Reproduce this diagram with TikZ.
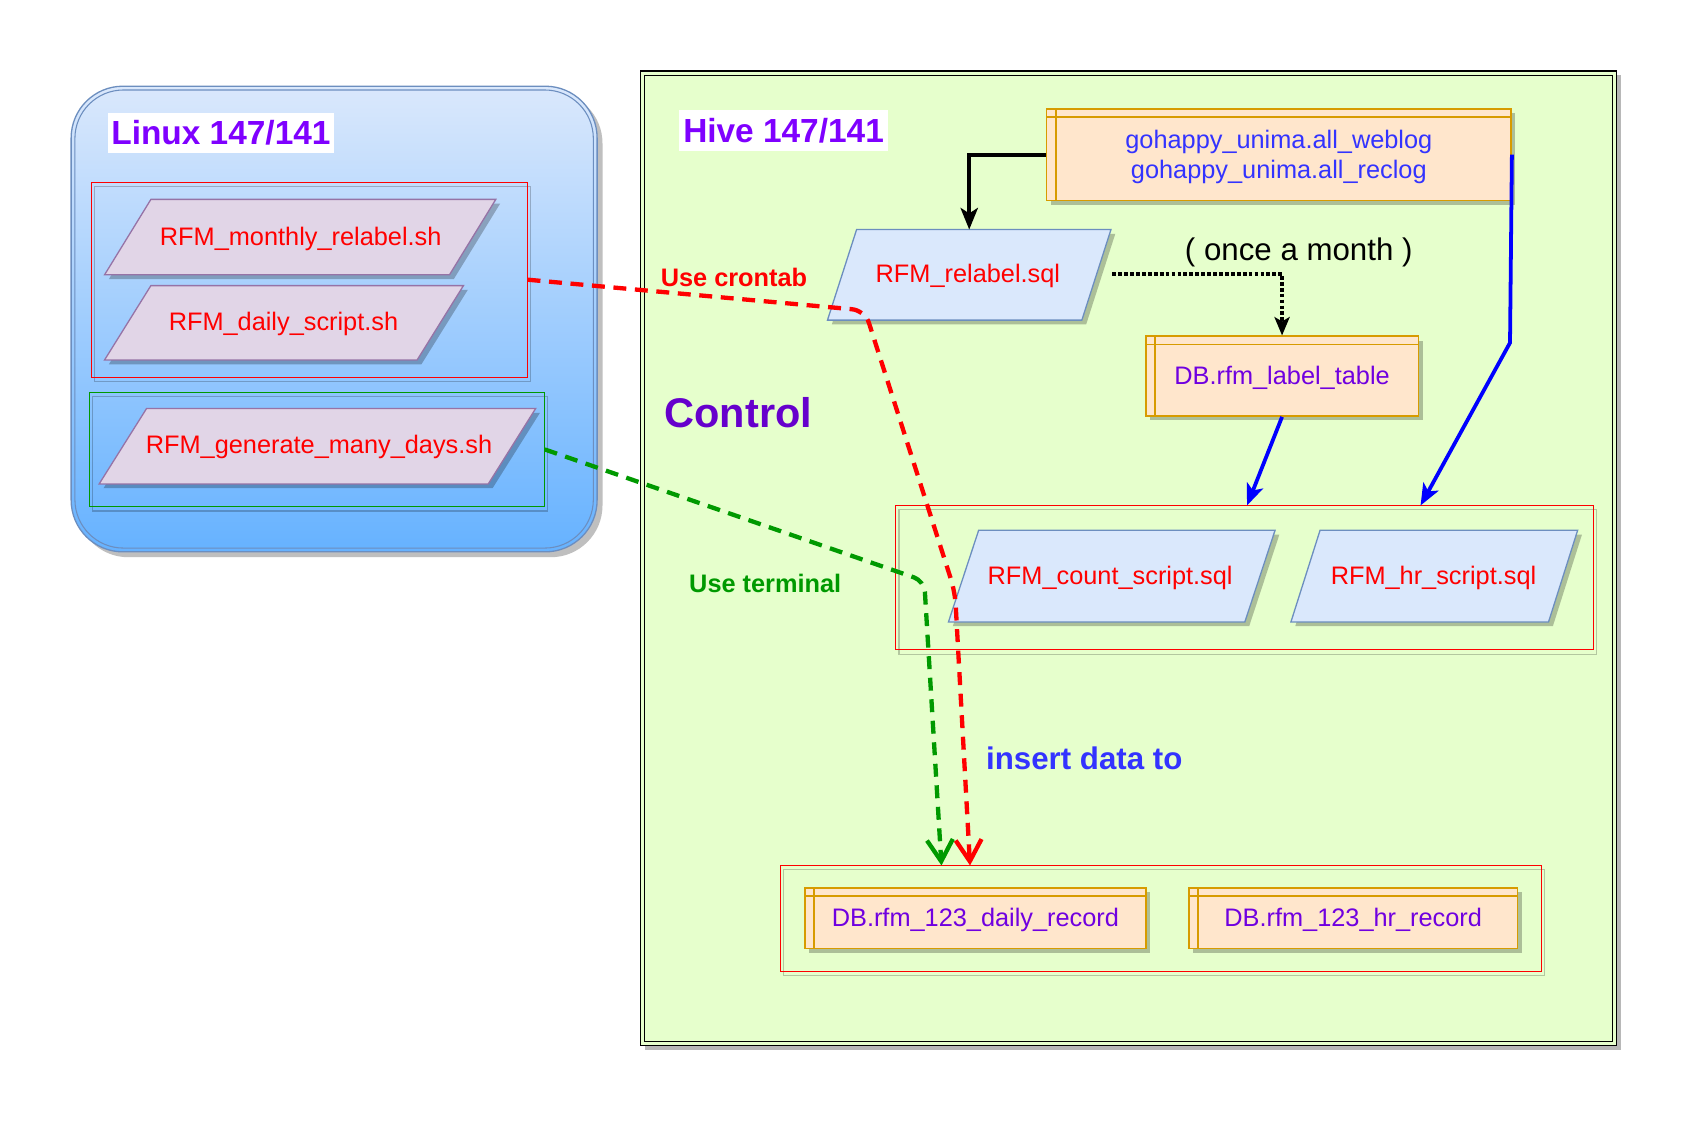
\documentclass[tikz,border=0pt]{standalone}
\usepackage{fontspec}
\setmainfont{Liberation Sans}
\usetikzlibrary{arrows.meta,calc,shadows}

\definecolor{linuxtop}{HTML}{DAE8FC}
\definecolor{linuxbot}{HTML}{66B2FF}
\definecolor{linuxline}{HTML}{6C8EBF}
\definecolor{lilacfill}{HTML}{E1D5E7}
\definecolor{lilacline}{HTML}{9673A6}
\definecolor{sqlfill}{HTML}{DAE8FC}
\definecolor{sqlline}{HTML}{6C8EBF}
\definecolor{tabfill}{HTML}{FFE6CC}
\definecolor{tabline}{HTML}{D79B00}
\definecolor{hivefill}{HTML}{E6FFCC}
\definecolor{redtxt}{HTML}{FF0000}
\definecolor{violet}{HTML}{7F00FF}
\definecolor{dbtxt}{HTML}{7000E0}
\definecolor{ctrl}{HTML}{6600CC}
\definecolor{srctxt}{HTML}{3333FF}
\definecolor{grn}{HTML}{009900}
\definecolor{blu}{HTML}{0000FF}

\newcommand\mypara[8]{% name, cx, cy, w, h, slant, fill, draw
  \fill[black,opacity=0.25] ({#2-#4/2-#6/2+4},{#3+#5/2+4}) -- ({#2+#4/2-#6/2+4},{#3+#5/2+4}) -- ({#2+#4/2+#6/2+4},{#3-#5/2+4}) -- ({#2-#4/2+#6/2+4},{#3-#5/2+4}) -- cycle;
  \draw[fill=#7,draw=#8,line width=1.2] ({#2-#4/2-#6/2},{#3+#5/2}) -- ({#2+#4/2-#6/2},{#3+#5/2}) -- ({#2+#4/2+#6/2},{#3-#5/2}) -- ({#2-#4/2+#6/2},{#3-#5/2}) -- cycle;
  \coordinate (#1-n) at (#2,{#3-#5/2});
}

\tikzset{
  base/.style={font=\fontsize{23.5}{28}\selectfont, inner sep=0pt},
  ptxt/.style={base, text=redtxt},
  grp/.style={draw=redtxt, line width=0.9, inner sep=0pt},
  grpshadow/.style={draw=black, opacity=0.22, line width=1.2},
  tbl/.style={base, draw=tabline, fill=tabfill, line width=1.5, align=center, text depth=1pt,
    drop shadow={shadow xshift=4pt, shadow yshift=-4pt, fill=black, opacity=0.25}},
  tblinner/.style={draw=tabline, line width=1.5},
  biglbl/.style={font=\bfseries\fontsize{31}{36}\selectfont, text=violet, fill=white, inner sep=0pt},
  blk/.style={line width=4, -{Stealth[length=20pt,width=16pt,inset=5pt]}},
  bluarr/.style={draw=blu, line width=3.5, -{Stealth[length=20pt,width=16pt,inset=5pt]}},
  dotarr/.style={line width=3.5, dash pattern=on 3.5pt off 2pt, -{Stealth[length=17pt,width=14pt,inset=4pt]}},
  rdash/.style={draw=redtxt, line width=4, dash pattern=on 12pt off 8pt, -{Straight Barb[length=20pt,width=24pt]}},
  gdash/.style={draw=grn, line width=4, dash pattern=on 12pt off 8pt, -{Straight Barb[length=20pt,width=24pt]}},
}

\begin{document}
\begin{tikzpicture}[x=1pt,y=-1pt]
\useasboundingbox[fill=white] (0,0) rectangle (1568,1040);

% ---------------- Linux box ----------------
\fill[black!25, rounded corners=48pt] (71,85) rectangle (559,517);
\draw[top color=linuxtop, bottom color=linuxbot, draw=linuxline, line width=1.2, rounded corners=48pt] (66,80) rectangle (554,512);
\draw[linuxline, line width=1, rounded corners=45pt] (69.5,83.5) rectangle (550.5,508.5);
\node[biglbl, minimum width=210pt, minimum height=37pt] (linuxlbl) at (205,123.5) {Linux 147/141};

\draw[grpshadow] (88,173) rectangle (492,354);
\node[grp, minimum width=404pt, minimum height=181pt] (redgrp) at (287,259.5) {};
\draw[grpshadow] (86,368) rectangle (508,474);
\node[draw=grn, line width=0.9, inner sep=0pt, minimum width=422pt, minimum height=106pt] (greengrp) at (294,417) {};

\mypara{monthly}{278.5}{220}{320}{70}{43}{lilacfill}{lilacline}
\node[ptxt] (monthlyt) at (279,222) {RFM\_monthly\_relabel.sh};
\mypara{daily}{263.5}{299.5}{290}{69}{43}{lilacfill}{lilacline}
\node[ptxt] (dailyt) at (263,301) {RFM\_daily\_script.sh};
\mypara{gen}{294.5}{414}{361}{70}{44}{lilacfill}{lilacline}
\node[ptxt] (gent) at (296,415) {RFM\_generate\_many\_days.sh};

% ---------------- Hive box ----------------
\fill[black!28] (598,70) rectangle (1504,974);
\draw[fill=hivefill, draw=black, line width=1.2] (594,66) rectangle (1500,970);
\draw[black, line width=1.2] (598,70) rectangle (1496,966);
\node[biglbl, minimum width=194pt, minimum height=38pt] (hivelbl) at (727,121) {Hive 147/141};

% source table
\node[tbl, minimum width=431pt, minimum height=85pt, text=srctxt] (src) at (1186.5,143.5) {gohappy\_unima.all\_weblog\\gohappy\_unima.all\_reclog};
\draw[tblinner] ($(src.north west)+(0,8.5)$) -- ($(src.north east)+(0,8.5)$);
\draw[tblinner] ($(src.north west)+(9.5,0)$) -- ($(src.south west)+(9.5,0)$);

% relabel sql
\mypara{relabel}{899.25}{255}{236}{84}{27}{sqlfill}{sqlline}
\node[ptxt] (relabelt) at (898,256) {RFM\_relabel.sql};

% label table
\node[tbl, minimum width=253pt, minimum height=74pt, text=dbtxt] (lbl) at (1189.5,349) {DB.rfm\_label\_table};
\draw[tblinner] ($(lbl.north west)+(0,8.5)$) -- ($(lbl.north east)+(0,8.5)$);
\draw[tblinner] ($(lbl.north west)+(9.5,0)$) -- ($(lbl.south west)+(9.5,0)$);

\node[font=\fontsize{29}{34}\selectfont, inner sep=0pt] (once) at (1205,234) {( once a month )};

% count group
\draw[grpshadow] (834,473) rectangle (1481,607);
\node[grp, minimum width=647pt, minimum height=134pt] (cntgrp) at (1154.5,536) {};
\mypara{count}{1031.5}{534.5}{275}{85}{28}{sqlfill}{sqlline}
\node[ptxt] (countt) at (1030,536) {RFM\_count\_script.sql};
\mypara{hr}{1330.75}{534.5}{239}{85}{27}{sqlfill}{sqlline}
\node[ptxt] (hrt) at (1330,536) {RFM\_hr\_script.sql};

% bottom group
\draw[grpshadow] (727,807) rectangle (1433,905);
\node[grp, minimum width=706pt, minimum height=98pt] (botgrp) at (1077,852) {};
\node[tbl, minimum width=316pt, minimum height=56pt, text=dbtxt] (dailyrec) at (905,852) {DB.rfm\_123\_daily\_record};
\draw[tblinner] ($(dailyrec.north west)+(0,8)$) -- ($(dailyrec.north east)+(0,8)$);
\draw[tblinner] ($(dailyrec.north west)+(9,0)$) -- ($(dailyrec.south west)+(9,0)$);
\node[tbl, minimum width=305pt, minimum height=56pt, text=dbtxt] (hrrec) at (1255.5,852) {DB.rfm\_123\_hr\_record};
\draw[tblinner] ($(hrrec.north west)+(0,8)$) -- ($(hrrec.north east)+(0,8)$);
\draw[tblinner] ($(hrrec.north west)+(9,0)$) -- ($(hrrec.south west)+(9,0)$);

% labels
\node[font=\bfseries\fontsize{38.5}{44}\selectfont, text=ctrl, inner sep=0pt] (control) at (685,383) {Control};
\node[font=\bfseries\fontsize{23.5}{28}\selectfont, text=redtxt, inner sep=0pt] (crontab) at (681,257) {Use crontab};
\node[font=\bfseries\fontsize{23.5}{28}\selectfont, text=grn, inner sep=0pt] (terminal) at (710,541) {Use terminal};
\node[font=\bfseries\fontsize{29}{34}\selectfont, text=srctxt, inner sep=0pt] (insert) at (1006,704) {insert data to};

% connector coordinates
\coordinate (reldot) at (1032,254);
\coordinate (bendb) at (1401,318);
\coordinate (hrin) at (1318,469);
\coordinate (cntin) at (1157,469);
\coordinate (rc1) at (802.5,288);
\coordinate (rc2) at (886,549);
\coordinate (rin) at (900,803);
\coordinate (gc1) at (857.5,539);
\coordinate (gin) at (873.5,803);

% connectors
\draw[blk] (src.west) -| (relabel-n);
\draw[dotarr] (reldot) -| (lbl.north);
\draw[bluarr] (lbl.south) -- (cntin);
\draw[bluarr] (src.east) -- (bendb) -- (hrin);
\draw[rdash, rounded corners=12pt] (redgrp.east) -- (rc1) -- (rc2) -- (rin);
\draw[gdash, rounded corners=10pt] (greengrp.east) -- (gc1) -- (gin);
\end{tikzpicture}
\end{document}
